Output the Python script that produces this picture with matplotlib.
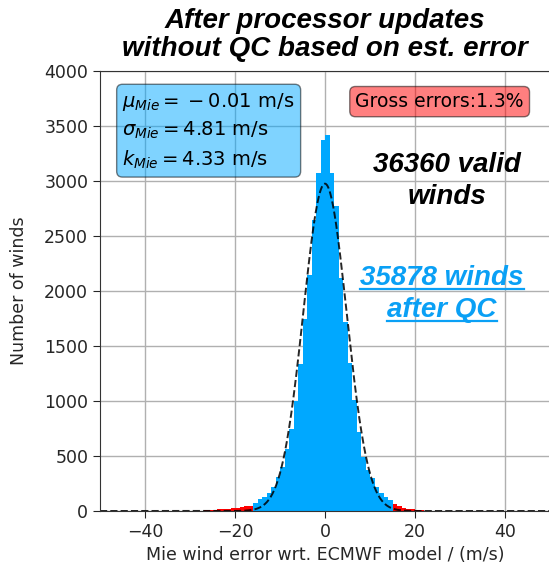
""" Histogram of Mie wind errors against the ECMWF model, with gross errors and a Gaussian fit. """

import numpy as np
import matplotlib
matplotlib.use('Agg')
import matplotlib.pyplot as plt


### DATA ###

# Left edges of the 1 m/s bins for winds passing QC
qc_bin_left = np.arange(-16, 15)
qc_counts = [75, 105, 130, 160, 220, 310, 400, 560, 750, 1000, 1340, 1750, 2150, 2650, 3070, 3373,
    3418, 3070, 2773, 2115, 1721, 1342, 1009, 721, 494, 373, 297, 221, 160, 130, 100]

# Gross errors rejected by QC (tails)
gross_bin_left = np.concatenate([np.arange(-27, -16), np.arange(15, 23)])
gross_counts = [8, 10, 12, 15, 18, 22, 26, 30, 36, 42, 50,
    60, 42, 30, 22, 15, 10, 7, 4]

# Summary statistics
n_valid = 36360
n_qc = 35878
mu_mie = -0.01
sigma_mie = 4.81
k_mie = 4.33
gross_pct = 1.3

x_ticks = [-40, -20, 0, 20, 40]
y_ticks = np.arange(0, 4001, 500)

bar_color = '#00a8ff'
arial = 'Liberation Sans'

### ###


fig = plt.figure(figsize=(5.49, 5.70), dpi=100)
ax = fig.add_axes([100/549, 59/570, 450/549, 440/570])

ax.set_axisbelow(True)
ax.grid(True, color='#b0b0b0', lw=1.0)

# Histogram bars
ax.bar(gross_bin_left, gross_counts, width=1.0, align='edge', color='red', linewidth=0)
ax.bar(qc_bin_left, qc_counts, width=1.0, align='edge', color=bar_color, linewidth=0)

# Gaussian fit from the QC statistics
x_fit = np.linspace(-50, 50, 1001)
y_fit = n_qc/(sigma_mie*np.sqrt(2*np.pi))*np.exp(-0.5*((x_fit - mu_mie)/sigma_mie)**2)
ax.plot(x_fit, y_fit, color='k', ls='--', lw=1.4, alpha=0.85)

ax.set_xlim(-50, 50)
ax.set_ylim(0, 4000)
ax.set_xticks(x_ticks)
ax.set_yticks(y_ticks)
ax.tick_params(labelsize=12.5, colors='#262626', length=5)
for sp in ax.spines.values():
    sp.set_color('#333333')

ax.set_xlabel('Mie wind error wrt. ECMWF model / (m/s)', fontsize=12.5, color='#262626', labelpad=4)
ax.set_ylabel('Number of winds', fontsize=12.5, color='#262626', labelpad=12)

# Statistics box
stats_str = r'$\mu_{Mie}=\:-\:%.2f$ m/s' % abs(mu_mie) + '\n' \
    + r'$\sigma_{Mie}=%.2f$ m/s' % sigma_mie + '\n' \
    + r'$k_{Mie}=%.2f$ m/s' % k_mie
ax.text(0.05, 0.955, stats_str, transform=ax.transAxes, fontsize=14, va='top', ha='left',
    linespacing=1.45, bbox=dict(boxstyle='round', facecolor=bar_color, alpha=0.5))

ax.text(0.942, 0.952, 'Gross errors:%.1f%%' % gross_pct, transform=ax.transAxes, fontsize=13.5,
    va='top', ha='right', bbox=dict(boxstyle='round', facecolor='red', alpha=0.5))

# Count annotations
fig.text(447/549, 1 - 172/570, '%d valid' % n_valid, fontsize=20, family=arial, weight='bold',
    style='italic', ha='center', va='baseline')
fig.text(447/549, 1 - 204/570, 'winds', fontsize=20, family=arial, weight='bold',
    style='italic', ha='center', va='baseline')

qc_color = '#0aa0f5'
qc_lines = [
    fig.text(442/549, 1 - 285/570, '%d winds' % n_qc, fontsize=20, family=arial, weight='bold',
        style='italic', ha='center', va='baseline', color=qc_color),
    fig.text(442/549, 1 - 317/570, 'after QC', fontsize=20, family=arial, weight='bold',
        style='italic', ha='center', va='baseline', color=qc_color),
]

# Underline the QC annotation just below the baseline
fig.canvas.draw()
renderer = fig.canvas.get_renderer()
for txt in qc_lines:
    bb = txt.get_window_extent(renderer).transformed(fig.transFigure.inverted())
    y_line = txt.get_position()[1] - 3.5/570
    fig.add_artist(matplotlib.lines.Line2D([bb.x0, bb.x1], [y_line, y_line],
        transform=fig.transFigure, color=qc_color, lw=1.6))

fig.text(325/549, 1 - 35/570, 'After processor updates\nwithout QC based on est. error',
    fontsize=20, family=arial, weight='bold', style='italic', ha='center', va='center',
    linespacing=1.08)

fig.savefig('out.png', dpi=100)
